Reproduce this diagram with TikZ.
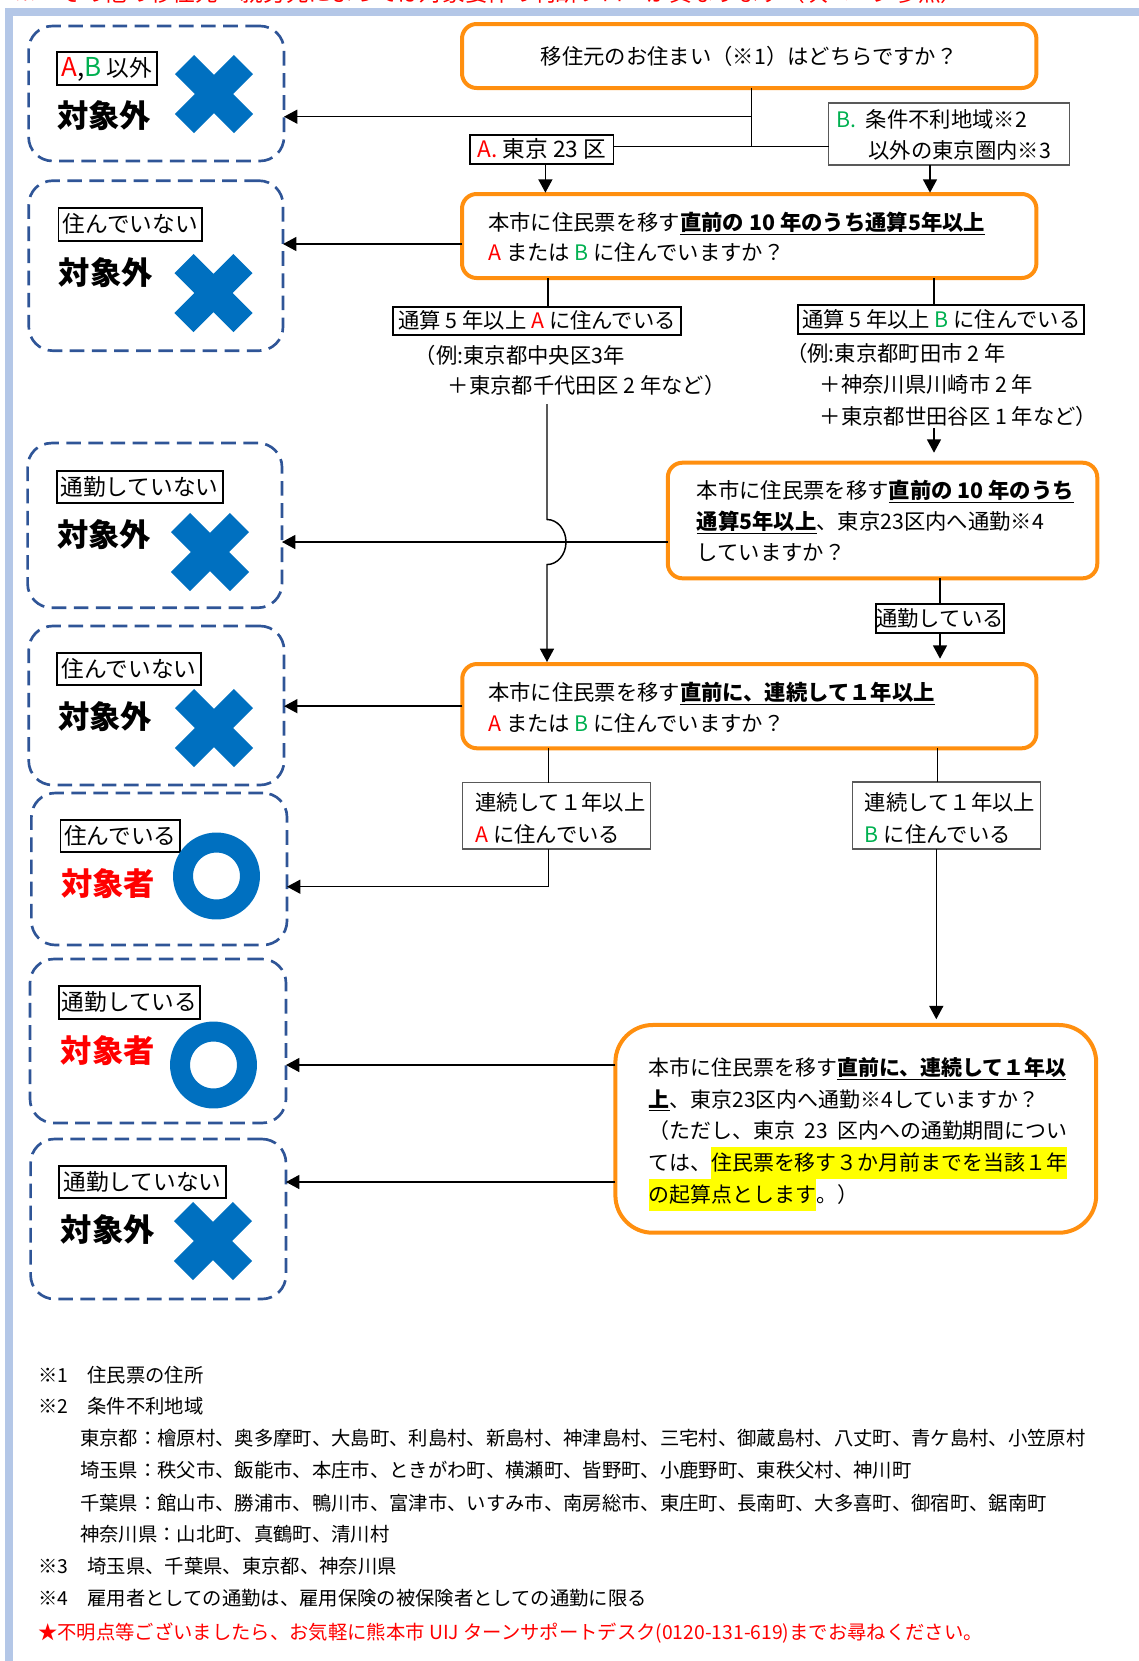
\documentclass[tikz,border=0pt]{standalone}
\usepackage{fontspec}
\setmainfont{Noto Sans CJK JP}
\usetikzlibrary{arrows.meta}
\definecolor{org}{HTML}{FF8F0F}
\definecolor{xblue}{HTML}{0070C0}
\definecolor{dblue}{HTML}{2F5597}
\definecolor{frm}{HTML}{B4C7E7}
\definecolor{rd}{HTML}{FF0000}
\definecolor{gr}{HTML}{00B050}
\definecolor{hly}{HTML}{FFFF00}
\definecolor{gline}{HTML}{595959}
\newcommand\hlt[1]{{\setlength{\fboxsep}{0pt}\colorbox{hly}{\rule[-6pt]{0pt}{24pt}#1}}}
\newcommand\ulb[1]{\underline{\textbf{#1}}}
\newcommand\redA{\textcolor{rd}{A}}
\newcommand\grnB{\textcolor{gr}{B}}
\newcommand\xmk[2]{\draw[xblue,line width=20.25pt] (#1-29.5,#2-29.5) -- (#1+29.5,#2+29.5) (#1-29.5,#2+29.5) -- (#1+29.5,#2-29.5);}
\newcommand\omk[2]{\draw[xblue,line width=15pt] (#1,#2) circle[radius=25.1pt];}
\begin{document}
\begin{tikzpicture}[x=0.75pt,y=-0.75pt,
  dbox/.style={draw=dblue,line width=2pt,dash pattern=on 11pt off 5.6pt,rounded corners=18pt,inner sep=0pt,outer sep=0pt},
  qbox/.style={draw=org,line width=3pt,rounded corners=11pt,inner sep=0pt,outer sep=0pt},
  lblk/.style={draw=black,line width=1.4pt,inner sep=0pt,outer sep=0pt,font=\fontsize{17}{20}\selectfont,text height=14.9pt,text depth=2.1pt},
  tlab/.style={draw=black,line width=1.4pt,inner sep=0pt,outer sep=0pt,font=\fontsize{16}{19}\selectfont,text height=14.1pt,text depth=1.9pt},
  glab/.style={draw=gline,line width=0.9pt,inner sep=0pt,outer sep=0pt},
  tq/.style={anchor=west,inner sep=0pt,font=\fontsize{16}{19}\selectfont,text height=14.1pt,text depth=1.9pt},
  tq5/.style={anchor=west,inner sep=0pt,font=\fontsize{15.7}{19}\selectfont,text height=13.9pt,text depth=1.9pt},
  tf/.style={anchor=west,inner sep=0pt,font=\fontsize{14.5}{17}\selectfont,text height=12.8pt,text depth=1.7pt},
  big/.style={anchor=west,inner sep=0pt,font=\fontsize{23.5}{28}\selectfont\bfseries,text height=20.7pt,text depth=2.8pt},
  conn/.style={line width=1.1pt},
  arr/.style={line width=1.1pt,-{Triangle[length=10pt,width=10.5pt]}}
]
\useasboundingbox (0,0) rectangle (1139,1661);
\clip (0,0) rectangle (1139,1661);
% clipped title and frame
\node[anchor=west,inner sep=0pt,text=rd,font=\fontsize{17}{20}\selectfont] (ttl) at (14,-7) {※　その他の移住元・就労先によっては対象要件の判断フローが異なります（次ページ参照）};
\draw[frm,line width=6pt] (9,1680) -- (9,12) -- (1160,12);

% left dashed result boxes
\node[dbox,minimum width=191.55pt,minimum height=101.25pt] (D1) at (156.3,93.5) {};
\node[dbox,minimum width=190.7pt,minimum height=127.5pt] (D2) at (155.9,265.7) {};
\node[dbox,minimum width=190.8pt,minimum height=123.5pt] (D3) at (154.8,525.4) {};
\node[dbox,minimum width=191.5pt,minimum height=119.25pt] (D4) at (156.4,705.5) {};
\node[dbox,minimum width=191.7pt,minimum height=114pt] (D5) at (159.2,869) {};
\node[dbox,minimum width=192pt,minimum height=123pt] (D6) at (158,1041) {};
\node[dbox,minimum width=191.55pt,minimum height=120pt] (D7) at (158.3,1219) {};

% contents of result boxes
\node[lblk,minimum width=75.3pt,minimum height=25pt] (L1) at (106.8,68.35) {{\fontsize{19.5}{20}\selectfont\redA,\grnB}\ 以外};
\node[big] (R1) at (57,116) {対象外};
\xmk{214}{94}
\node[lblk,minimum width=107.6pt,minimum height=25pt] (L2) at (130.25,224.35) {住んでいない};
\node[big] (R2) at (58.5,272.5) {対象外};
\xmk{213.5}{293}
\node[lblk,minimum width=124.6pt,minimum height=24.2pt] (L3) at (139.65,486.85) {通勤していない};
\node[big] (R3) at (57,534.5) {対象外};
\xmk{210}{552}
\node[lblk,minimum width=107.7pt,minimum height=24pt] (L4) at (129.2,669) {住んでいない};
\node[big] (R4) at (58,716.2) {対象外};
\xmk{214}{728}
\node[lblk,minimum width=89.6pt,minimum height=24pt] (L5) at (120.25,836) {住んでいる};
\node[big,text=rd] (R5) at (61,883.5) {対象者};
\omk{216.5}{876}
\node[lblk,minimum width=105.75pt,minimum height=25pt] (L6) at (129.5,1002.35) {通勤している};
\node[big,text=rd] (R6) at (60.5,1050.5) {対象者};
\omk{213.5}{1065}
\node[lblk,minimum width=125.25pt,minimum height=24.2pt] (L7) at (142.5,1181.85) {通勤していない};
\node[big] (R7) at (60.5,1230) {対象外};
\xmk{213}{1241}

% question boxes
\node[qbox,minimum width=430.8pt,minimum height=48pt,font=\fontsize{16}{19}\selectfont] (Q1) at (749.2,56) {移住元のお住まい（※1）はどちらですか？};
\node[qbox,minimum width=430.8pt,minimum height=63pt] (Q2) at (749.2,236) {};
\node[qbox,minimum width=322.1pt,minimum height=86.7pt] (Q3) at (882.55,520.5) {};
\node[qbox,minimum width=430.6pt,minimum height=63.2pt] (Q4) at (749.35,706.15) {};
\node[qbox,rounded corners=28pt,minimum width=360.6pt,minimum height=155.8pt] (Q5) at (855.8,1128.85) {};

\node[tq] (Q2a) at (488,222.5) {本市に住民票を移す\ulb{直前の 10 年のうち通算5年以上}};
\node[tq] (Q2b) at (488,252.5) {\redA\ または \grnB\ に住んでいますか？};
\node[tq] (Q3a) at (696.6,490) {本市に住民票を移す\ulb{直前の 10 年のうち}};
\node[tq] (Q3b) at (696.6,521.7) {\ulb{通算5年以上}、東京23区内へ通勤※4};
\node[tq] (Q3c) at (696.6,552.3) {していますか？};
\node[tq] (Q4a) at (488,692.5) {本市に住民票を移す\ulb{直前に、連続して１年以上}};
\node[tq] (Q4b) at (488,723.8) {\redA\ または \grnB\ に住んでいますか？};
\node[tq5] (Q5a) at (648.6,1067.3) {本市に住民票を移す\ulb{直前に、連続して１年以}};
\node[tq5] (Q5b) at (648.6,1099) {\ulb{上}、東京23区内へ通勤※4していますか？};
\node[tq5] (Q5c) at (648.6,1130.8) {（ただし、東京\ \ 23\ \ 区内への通勤期間につい};
\node[tq5] (Q5d) at (648.6,1162.5) {ては、\hlt{住民票を移す３か月前までを当該１年}};
\node[tq5] (Q5e) at (648.6,1194.5) {\hlt{の起算点とします}。）};

% branch labels
\node[tlab,minimum width=107.6pt,minimum height=21.75pt,font=\fontsize{17}{19}\selectfont] (LA1) at (541.75,149.5) {\textcolor{rd}{A.} 東京 23 区};
\node[glab,minimum width=180.6pt,minimum height=46.5pt] (LB1) at (949.2,134) {};
\node[tq] (LB1a) at (836.2,119) {\textcolor{gr}{B.}\ \ 条件不利地域※2};
\node[tq] (LB1b) at (868.3,150.8) {以外の東京圏内※3};
\node[tlab,minimum width=215.7pt,minimum height=21.2pt] (LA2) at (537.2,320.85) {通算 5 年以上 \redA\ に住んでいる};
\node[tlab,minimum width=214.65pt,minimum height=21.75pt] (LB2) at (941.3,319.5) {通算 5 年以上 \grnB\ に住んでいる};
\node[tq] (EA1) at (414.7,355) {（例:東京都中央区3年};
\node[tq] (EA2) at (447.7,385) {＋東京都千代田区 2 年など）};
\node[tq] (EB1) at (786,353.3) {（例:東京都町田市 2 年};
\node[tq] (EB2) at (819.5,384) {＋神奈川県川崎市 2 年};
\node[tq] (EB3) at (819.5,416) {＋東京都世田谷区 1 年など）};
\node[tlab,minimum width=93.6pt,minimum height=22pt] (LC3) at (940,618.65) {通勤している};
\node[glab,minimum width=141.15pt,minimum height=49.7pt] (LA4) at (556.4,815.85) {};
\node[tq] (LA4a) at (475.3,802.3) {連続して１年以上};
\node[tq] (LA4b) at (475.3,834) {\redA\ に住んでいる};
\node[glab,minimum width=141.2pt,minimum height=50.25pt] (LB4) at (946.65,815.5) {};
\node[tq] (LB4a) at (864.7,802.3) {連続して１年以上};
\node[tq] (LB4b) at (864.7,834) {\grnB\ に住んでいる};

% connectors
\coordinate (j1) at (751.3,146.7);
\coordinate (j2) at (751.3,116.7);
\draw[conn] (Q1.south -| j1) -- (j1);
\draw[conn] (LA1.east |- j1) -- (LB1.west |- j1);
\draw[arr] (j2) -- (j2 -| D1.east);
\coordinate (xa) at (545.4,0);
\coordinate (xb) at (930,0);
\draw[arr,shorten >=1pt] (LA1.south -| xa) -- (Q2.north -| xa);
\draw[arr,shorten >=1pt] (LB1.south -| xb) -- (Q2.north -| xb);
\coordinate (y2) at (0,244);
\draw[arr] (Q2.west |- y2) -- (D2.east |- y2);
\coordinate (xa2) at (548,0);
\coordinate (xb2) at (934,0);
\draw[conn] (Q2.south -| xa2) -- (LA2.north -| xa2);
\draw[conn] (Q2.south -| xb2) -- (LB2.north -| xb2);
\coordinate (va) at (547,404);
\coordinate (hop) at (547,519.5);
\draw[arr,shorten >=1.5pt] (va) -- (hop) arc[start angle=90,end angle=-90,x radius=14.25pt,y radius=16.9pt] -- (va |- Q4.north);
\coordinate (vb) at (934,428);
\draw[arr,shorten >=7.5pt] (vb) -- (vb |- Q3.north);
\coordinate (y3) at (0,542);
\draw[arr] (Q3.west |- y3) -- (D3.east |- y3);
\draw[conn] (Q3.south -| LC3.north) -- (LC3.north);
\draw[arr,shorten >=4pt] (LC3.south) -- (LC3.south |- Q4.north);
\draw[arr] (Q4.west) -- (Q4.west -| D4.east);
\coordinate (xa4) at (548.4,0);
\coordinate (xb4) at (937.4,0);
\draw[conn] (Q4.south -| xa4) -- (LA4.north -| xa4);
\draw[conn] (Q4.south -| xb4) -- (LB4.north -| xb4);
\coordinate (c5) at (548.4,886.7);
\draw[arr] (LA4.south -| c5) -- (c5) -- (c5 -| D5.east);
\coordinate (xb5) at (936.3,0);
\draw[arr,shorten >=4.3pt] (LB4.south -| xb5) -- (Q5.north -| xb5);
\coordinate (y6) at (0,1065);
\coordinate (y7) at (0,1182);
\draw[arr] (Q5.west |- y6) -- (D6.east |- y6);
\draw[arr] (Q5.west |- y7) -- (D7.east |- y7);

% footnotes
\node[tf] (F1) at (37.8,1375) {※1　住民票の住所};
\node[tf] (F2) at (37.8,1406.5) {※2　条件不利地域};
\node[tf] (F3) at (79.9,1438) {東京都：檜原村、奥多摩町、大島町、利島村、新島村、神津島村、三宅村、御蔵島村、八丈町、青ケ島村、小笠原村};
\node[tf] (F4) at (79.9,1470) {埼玉県：秩父市、飯能市、本庄市、ときがわ町、横瀬町、皆野町、小鹿野町、東秩父村、神川町};
\node[tf] (F5) at (79.9,1502.7) {千葉県：館山市、勝浦市、鴨川市、富津市、いすみ市、南房総市、東庄町、長南町、大多喜町、御宿町、鋸南町};
\node[tf] (F6) at (79.9,1534) {神奈川県：山北町、真鶴町、清川村};
\node[tf] (F7) at (37.8,1566) {※3　埼玉県、千葉県、東京都、神奈川県};
\node[tf] (F8) at (37.8,1598) {※4　雇用者としての通勤は、雇用保険の被保険者としての通勤に限る};
\node[tf,text=rd] (F9) at (37.8,1631.7) {★不明点等ございましたら、お気軽に熊本市 UIJ ターンサポートデスク(0120-131-619)までお尋ねください。};
\end{tikzpicture}
\end{document}
